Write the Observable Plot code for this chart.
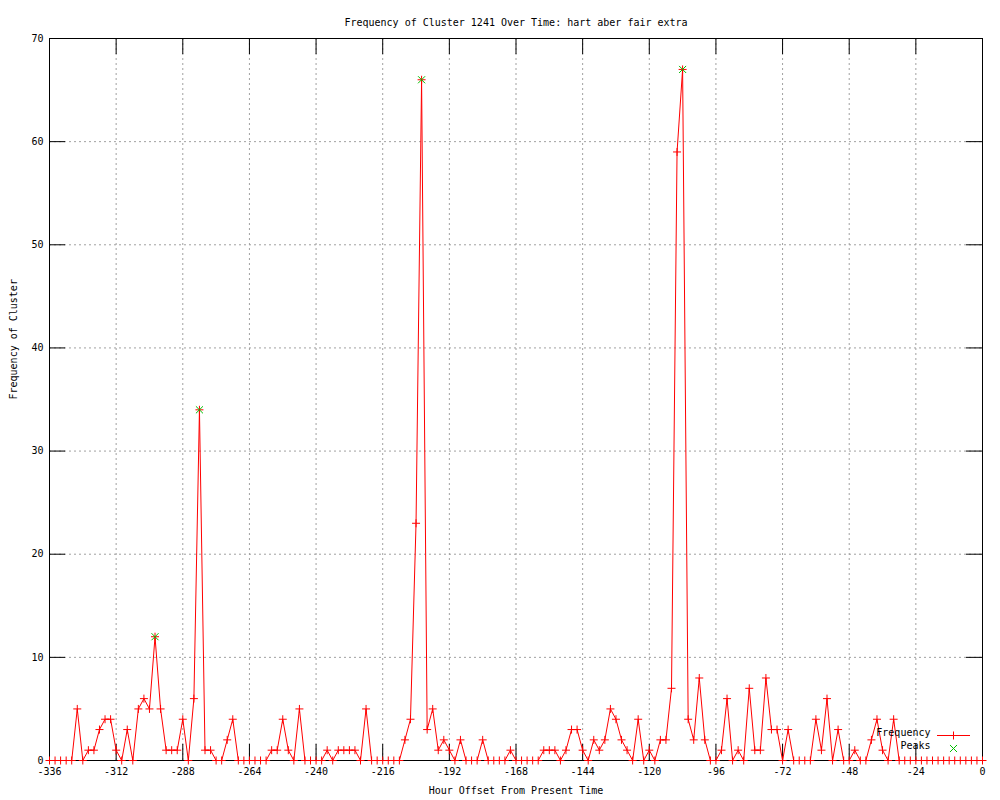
<!DOCTYPE html>
<html>
<head>
<meta charset="utf-8">
<script src="https://cdn.jsdelivr.net/npm/d3@7"></script>
<script src="https://cdn.jsdelivr.net/npm/@observablehq/plot@0.6"></script>
<style>
  html, body { margin: 0; padding: 0; background: white; }
  #chart { width: 1000px; height: 800px; }
</style>
</head>
<body>
<div id="chart"></div>
<script>
// ---- Data ----
const hours = [
  -336,-334,-332,-330,-328,-326,-324,-322,-320,-318,
  -316,-314,-312,-310,-308,-306,-304,-302,-300,-298,
  -296,-294,-292,-290,-288,-286,-284,-282,-280,-278,
  -276,-274,-272,-270,-268,-266,-264,-262,-260,-258,
  -256,-254,-252,-250,-248,-246,-244,-242,-240,-238,
  -236,-234,-232,-230,-228,-226,-224,-222,-220,-218,
  -216,-214,-212,-210,-208,-206,-204,-202,-200,-198,
  -196,-194,-192,-190,-188,-186,-184,-182,-180,-178,
  -176,-174,-172,-170,-168,-166,-164,-162,-160,-158,
  -156,-154,-152,-150,-148,-146,-144,-142,-140,-138,
  -136,-134,-132,-130,-128,-126,-124,-122,-120,-118,
  -116,-114,-112,-110,-108,-106,-104,-102,-100,-98,
  -96,-94,-92,-90,-88,-86,-84,-82,-80,-78,
  -76,-74,-72,-70,-68,-66,-64,-62,-60,-58,
  -56,-54,-52,-50,-48,-46,-44,-42,-40,-38,
  -36,-34,-32,-30,-28,-26,-24,-22,-20,-18,
  -16,-14,-12,-10,-8,-6,-4,-2,0
];
const frequency = [
  0,0,0,0,0,5,0,1,1,3,
  4,4,1,0,3,0,5,6,5,12,
  5,1,1,1,4,0,6,34,1,1,
  0,0,2,4,0,0,0,0,0,0,
  1,1,4,1,0,5,0,0,0,0,
  1,0,1,1,1,1,0,5,0,0,
  0,0,0,0,2,4,23,66,3,5,
  1,2,1,0,2,0,0,0,2,0,
  0,0,0,1,0,0,0,0,0,1,
  1,1,0,1,3,3,1,0,2,1,
  2,5,4,2,1,0,4,0,1,0,
  2,2,7,59,67,4,2,8,2,0,
  0,1,6,0,1,0,7,1,1,8,
  3,3,0,3,0,0,0,0,4,1,
  6,0,3,0,0,1,0,0,2,4,
  1,0,4,0,0,0,0,0,0,0,
  0,0,0,0,0,0,0,0,0
];
const peakHours = [-298, -282, -202, -108];
const peakValues = [12, 34, 66, 67];

const xTicks = [-336,-312,-288,-264,-240,-216,-192,-168,-144,-120,-96,-72,-48,-24,0];
const yTicks = [0,10,20,30,40,50,60,70];

const title = "Frequency of Cluster 1241 Over Time: hart aber fair extra";
const xLabel = "Hour Offset From Present Time";
const yLabel = "Frequency of Cluster";
const seriesNames = ["Frequency", "Peaks"];

// ---- Tables ----
const data = hours.map((h, i) => ({hour: h, freq: frequency[i]}));
const peaks = peakHours.map((h, i) => ({hour: h, freq: peakValues[i]}));

const W = 1000, H = 800;
const mL = 49, mR = 18, mT = 38, mB = 40;
const plotW = W - mL - mR, plotH = H - mT - mB;
const tickLen = 16;
const red = "#ff0000", green = "#00c000";
const plusR = 2.7, timesR = 3.3;
const grid = {stroke: "#a0a0a0", strokeOpacity: 1, strokeDasharray: "2,3", strokeWidth: 1};

// legend placement (pixel offsets from bottom-right corner of the frame)
const lgTextDx = -52, lgSymDx = -29, lgRow1Dy = -25, lgRow2Dy = -12;

const chart = Plot.plot({
  width: W, height: H,
  marginLeft: mL, marginRight: mR, marginTop: mT, marginBottom: mB,
  style: {fontFamily: "'DejaVu Sans Mono', monospace", fontSize: "10px", background: "white", color: "black"},
  x: {domain: [-336, 0], label: null},
  y: {domain: [0, 70], label: null},
  marks: [
    Plot.gridX(xTicks, grid),
    Plot.gridY(yTicks, grid),
    Plot.tickX(xTicks, {x: d => d, stroke: "black", insetTop: plotH - tickLen}),
    Plot.tickX(xTicks, {x: d => d, stroke: "black", insetBottom: plotH - tickLen}),
    Plot.tickY(yTicks, {y: d => d, stroke: "black", insetRight: plotW - tickLen}),
    Plot.tickY(yTicks, {y: d => d, stroke: "black", insetLeft: plotW - tickLen}),
    Plot.frame({stroke: "black"}),
    Plot.axisX({ticks: xTicks, tickSize: 0, tickPadding: 7, tickFormat: d => String(d), label: null}),
    Plot.axisY({ticks: yTicks, tickSize: 0, tickPadding: 6, tickFormat: d => String(d), label: null}),
    Plot.line(data, {x: "hour", y: "freq", stroke: red, strokeWidth: 1}),
    Plot.dot(data, {x: "hour", y: "freq", symbol: "plus", r: plusR, stroke: red, strokeWidth: 1}),
    Plot.dot(peaks, {x: "hour", y: "freq", symbol: "times", r: timesR, stroke: green, strokeWidth: 1}),
    Plot.text([title], {frameAnchor: "top", dy: -20, fill: "black"}),
    Plot.text([xLabel], {frameAnchor: "bottom", dy: 33, fill: "black"}),
    Plot.text([yLabel], {frameAnchor: "left", dx: -36, rotate: -90, fill: "black"}),
    // legend
    Plot.text([seriesNames[0]], {frameAnchor: "bottom-right", textAnchor: "end", dx: lgTextDx, dy: lgRow1Dy, fill: "black"}),
    Plot.text([seriesNames[1]], {frameAnchor: "bottom-right", textAnchor: "end", dx: lgTextDx, dy: lgRow2Dy, fill: "black"}),
    Plot.ruleY([0], {stroke: red, strokeWidth: 1, dy: lgRow1Dy, insetLeft: plotW - 45, insetRight: 12}),
    Plot.dot([seriesNames[0]], {frameAnchor: "bottom-right", dx: lgSymDx, dy: lgRow1Dy, symbol: "plus", r: plusR, stroke: red, strokeWidth: 1}),
    Plot.dot([seriesNames[1]], {frameAnchor: "bottom-right", dx: lgSymDx, dy: lgRow2Dy, symbol: "times", r: timesR, stroke: green, strokeWidth: 1})
  ]
});
document.getElementById("chart").appendChild(chart);
</script>
</body>
</html>
